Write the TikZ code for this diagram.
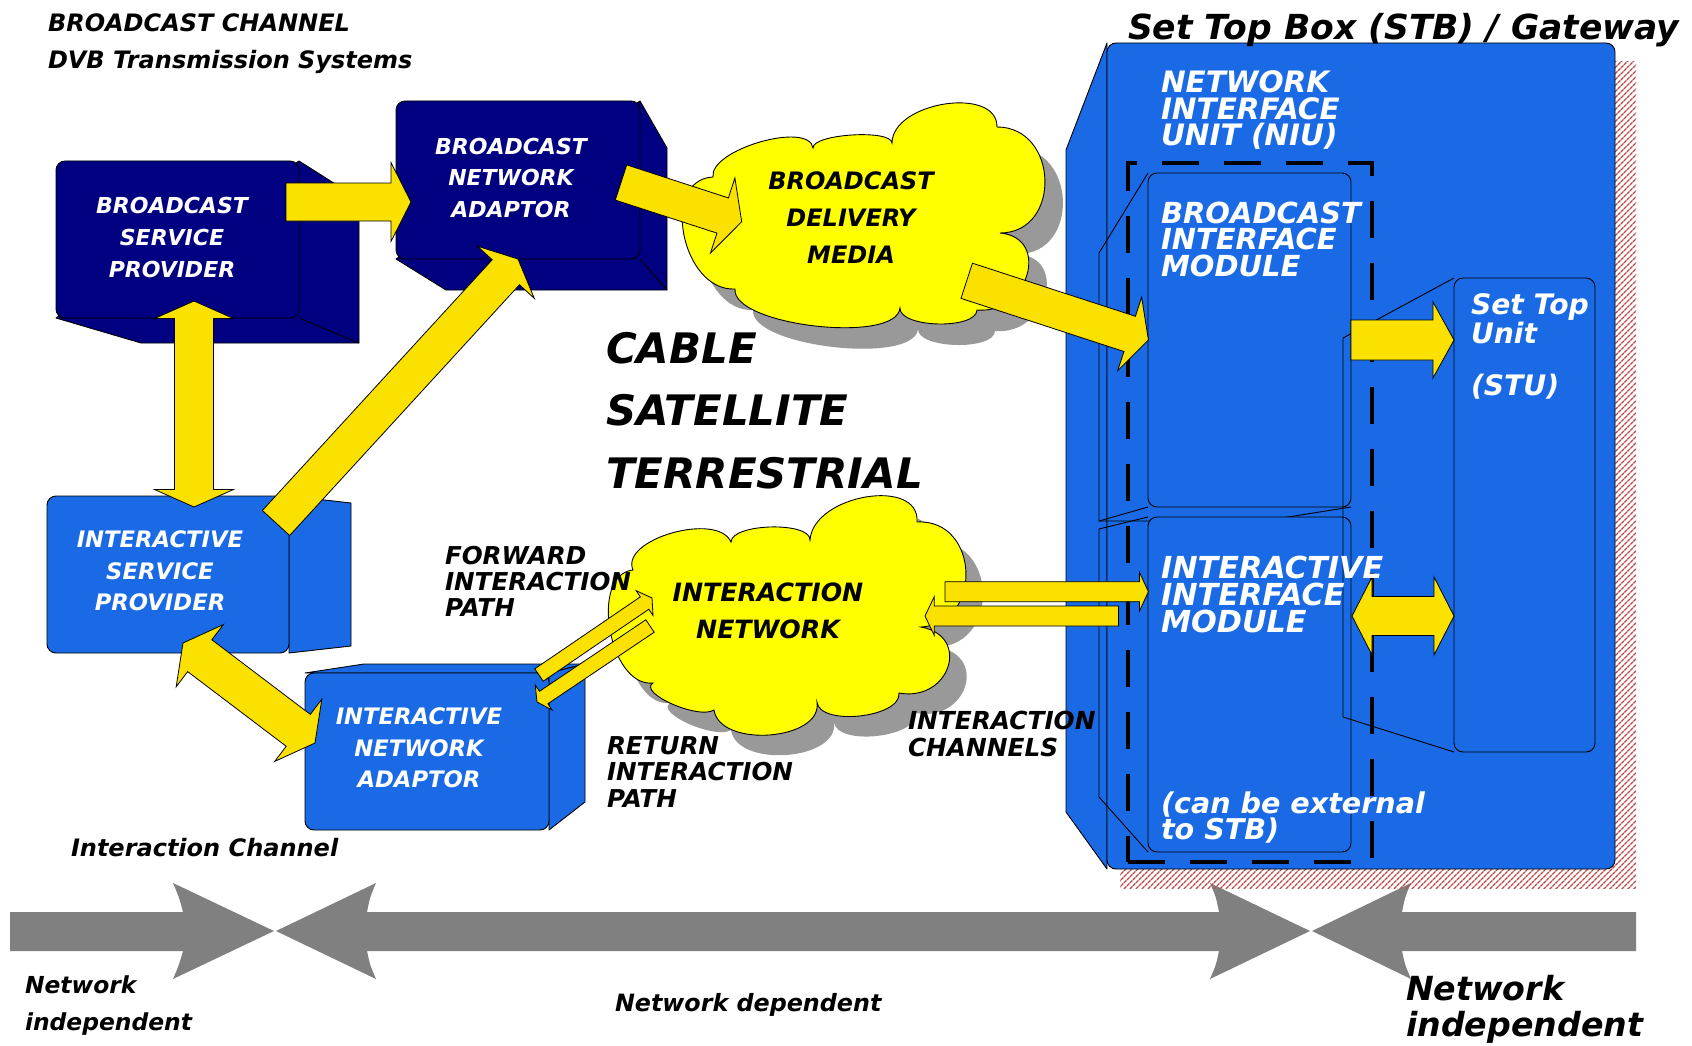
\documentclass[tikz,border=0pt]{standalone}
\usepackage{fontspec}
\setmainfont{DejaVu Sans}
\usetikzlibrary{calc,patterns.meta}

\definecolor{navy}{RGB}{0,0,128}
\definecolor{stbblue}{RGB}{26,106,230}
\definecolor{ayellow}{RGB}{250,225,0}
\definecolor{cyellow}{RGB}{255,255,0}
\definecolor{shadowgray}{RGB}{153,153,153}
\definecolor{agray}{RGB}{128,128,128}
\definecolor{hatchred}{RGB}{185,75,75}

\newcommand\fs[2]{\bfseries\itshape\fontsize{#1}{#2}\selectfont}
\newcommand\lobe[3]{.. controls ($0.3333*(#1)+1.3333*(#2)-0.6667*(#3)$) and ($0.3333*(#3)+1.3333*(#2)-0.6667*(#1)$) .. (#3)}

\newcommand\barrow[5]{%
  \coordinate (hb) at ($(#2)!#5!(#1)$);
  \filldraw[yarrow] ($(#1)!#3!90:(#2)$) -- ($(hb)!#3!-90:(#1)$) -- ($(hb)!#4!-90:(#1)$) -- (#2) -- ($(hb)!#4!90:(#1)$) -- ($(hb)!#3!90:(#1)$) -- ($(#1)!#3!-90:(#2)$) -- cycle;
}
\newcommand\dbarrow[5]{%
  \coordinate (hbA) at ($(#1)!#5!(#2)$);
  \coordinate (hbB) at ($(#2)!#5!(#1)$);
  \filldraw[yarrow] (#1) -- ($(hbA)!#4!90:(#2)$) -- ($(hbA)!#3!90:(#2)$) -- ($(hbB)!#3!-90:(#1)$) -- ($(hbB)!#4!-90:(#1)$) -- (#2) -- ($(hbB)!#4!90:(#1)$) -- ($(hbB)!#3!90:(#1)$) -- ($(hbA)!#3!-90:(#2)$) -- ($(hbA)!#4!-90:(#2)$) -- cycle;
}

\def\cloudA{(735,289) \lobe{735,289}{684,235}{713,177} \lobe{713,177}{760,142}{813,148} \lobe{813,148}{852,135}{892,143} \lobe{892,143}{945,104}{997,127} \lobe{997,127}{1045,180}{1000,233} \lobe{1000,233}{1027,275}{977,310} \lobe{977,310}{938,324}{900,308} \lobe{900,308}{815,326}{735,289} -- cycle}
\def\cloudB{(633,570) \lobe{633,570}{672,533}{731,542} \lobe{731,542}{771,527}{810,540} \lobe{810,540}{866,497}{917,522} \lobe{917,522}{966,572}{921,627} \lobe{921,627}{948,667}{899,693} \lobe{899,693}{860,716}{817,702} \lobe{817,702}{770,735}{714,710} \lobe{714,710}{672,704}{653,683} \lobe{653,683}{610,630}{633,570} -- cycle}

\tikzset{
  lbl/.style={inner sep=0pt, outer sep=0pt},
  yarrow/.style={fill=ayellow, draw=black, line width=0.8pt, line join=miter},
  navyface/.style={fill=navy, draw=black, line width=0.9pt, line join=round},
  blueface/.style={fill=stbblue, draw=black, line width=0.9pt, line join=round},
  thinline/.style={draw=black, line width=0.9pt},
  frontbox/.style={rectangle, rounded corners=9pt, draw=black, line width=0.9pt, inner sep=0pt, outer sep=0pt},
}

\begin{document}
\begin{tikzpicture}[x=1pt,y=-1pt]
\useasboundingbox (0,0) rectangle (1692,1046);
\fill[white] (0,0) rectangle (1692,1046);

% ---------- bottom grey scale arrows ----------
\fill[agray] (10,912) -- (183,912) .. controls (179,897) .. (173,883) -- (274,931) -- (173,979) .. controls (179,965) .. (183,951) -- (10,951) -- cycle;
\fill[agray] (276,931) -- (376,883) .. controls (370,897) .. (367,912) -- (1219,912) .. controls (1216,897) .. (1210,883) -- (1310,931) -- (1210,979) .. controls (1216,965) .. (1219,951) -- (367,951) .. controls (370,965) .. (376,979) -- cycle;
\fill[agray] (1312,931) -- (1411,883) .. controls (1405,897) .. (1402,912) -- (1636,912) -- (1636,951) -- (1402,951) .. controls (1405,965) .. (1411,979) -- cycle;

% ---------- Set Top Box ----------
\fill[pattern={Lines[angle=45,distance=4pt,line width=1.6pt]}, pattern color=hatchred] (1120,62) rectangle (1636,888);
\filldraw[blueface] (1107,43) -- (1066,150) -- (1066,812) -- (1107,869) -- cycle;
\node[frontbox, fill=stbblue, minimum width=508pt, minimum height=826pt] (stb) at (1361,456) {};

% modules
\draw[thinline] (1148,173) -- (1099,253) -- (1099,521) -- (1148,507);
\draw[thinline] (1099,521) -- (1263,521) -- (1351,507);
\node[frontbox, fill=stbblue, minimum width=203pt, minimum height=334pt] (bim) at (1249.5,340) {};
\draw[thinline] (1148,517) -- (1099,529) -- (1099,797) -- (1148,852);
\node[frontbox, fill=stbblue, minimum width=203pt, minimum height=335pt] (iim) at (1249.5,684.5) {};
\draw[thinline] (1454,278) -- (1343,338) -- (1343,717) -- (1454,752);
\node[frontbox, fill=stbblue, minimum width=141pt, minimum height=474pt] (stu) at (1524.5,515) {};

% NIU dashed outline
\node[rectangle, draw=black, line width=3.5pt, dash pattern=on 37pt off 25pt, minimum width=244pt, minimum height=699pt, inner sep=0pt] (niu) at (1250,512.5) {};

% ---------- left side boxes ----------
\filldraw[navyface] (299,161) -- (359,199) -- (359,343) -- (141,343) -- (56,318) -- cycle;
\draw[thinline] (299,318) -- (359,343);
\node[frontbox, fill=navy, minimum width=243pt, minimum height=157pt] (bsp) at (177.5,239.5) {};

\filldraw[navyface] (640,101) -- (667,148) -- (667,290) -- (446,290) -- (396,259) -- cycle;
\draw[thinline] (640,259) -- (667,290);
\node[frontbox, fill=navy, minimum width=244pt, minimum height=158pt] (bna) at (518,180) {};

\filldraw[blueface] (289,496) -- (351,503) -- (351,646) -- (289,653) -- cycle;
\node[frontbox, fill=stbblue, minimum width=242pt, minimum height=157pt] (isp) at (168,574.5) {};

\filldraw[blueface] (305,673) -- (364,664) -- (585,664) -- (549,673) -- cycle;
\filldraw[blueface] (549,673) -- (585,664) -- (585,802) -- (549,830) -- cycle;
\node[frontbox, fill=stbblue, minimum width=244pt, minimum height=157pt] (ina) at (427,751.5) {};

% ---------- clouds ----------
\fill[shadowgray, shift={(18,21)}] \cloudA;
\filldraw[fill=cyellow, draw=black, line width=0.9pt] \cloudA;
\fill[shadowgray, shift={(17,20)}] \cloudB;
\filldraw[fill=cyellow, draw=black, line width=0.9pt] \cloudB;

% ---------- yellow block arrows ----------
\coordinate (a1s) at (286,202);     \coordinate (a1e) at (411,202);
\coordinate (a2s) at (621,182.5);   \coordinate (a2e) at (741.7,221.7);
\coordinate (a3s) at (966.7,280.8); \coordinate (a3e) at (1148.4,340);
\coordinate (a4s) at (194,301);     \coordinate (a4e) at (194,507);
\coordinate (a5s) at (276,523);     \coordinate (a5e) at (518,259);
\coordinate (a6s) at (183,643);     \coordinate (a6e) at (315,743);
\coordinate (a7s) at (539,675);     \coordinate (a7e) at (652,598);
\coordinate (a8s) at (650,626);     \coordinate (a8e) at (537,702);
\coordinate (a9s) at (945,591.7);   \coordinate (a9e) at (1148.4,591.7);
\coordinate (a10s) at (1118.4,616); \coordinate (a10e) at (925,616);
\coordinate (a11s) at (1351,340);   \coordinate (a11e) at (1454,340);
\coordinate (a12s) at (1352,616);   \coordinate (a12e) at (1454,616);

\barrow{a1s}{a1e}{19pt}{39.5pt}{20pt}
\barrow{a2s}{a2e}{18.5pt}{39.5pt}{20pt}
\barrow{a3s}{a3e}{18.5pt}{38.6pt}{19.7pt}
\dbarrow{a4s}{a4e}{19.5pt}{39.5pt}{17.5pt}
\barrow{a5s}{a5e}{18.5pt}{38.6pt}{18pt}
\dbarrow{a6s}{a6e}{20pt}{39pt}{21pt}
\barrow{a7s}{a7e}{7.5pt}{15pt}{9pt}
\barrow{a8s}{a8e}{7.5pt}{15pt}{8pt}
\barrow{a9s}{a9e}{10pt}{19.5pt}{9pt}
\barrow{a10s}{a10e}{10pt}{19.5pt}{9.3pt}
\barrow{a11s}{a11e}{20pt}{38pt}{21pt}
\dbarrow{a12s}{a12e}{19.5pt}{39pt}{20pt}

% ---------- texts (anchor = baseline of the last line) ----------
\node[lbl, anchor=base west, align=left, font=\fs{24}{36.5}] (hdr) at (48,68.5) {BROADCAST CHANNEL\\DVB Transmission Systems};
\node[lbl, anchor=base west, font=\fs{34.5}{40}] (stbt) at (1128,39.5) {Set Top Box (STB) / Gateway};

\node[lbl, anchor=base, align=center, text=white, font=\fs{22}{32}] (bspt) at (172,277) {BROADCAST\\SERVICE\\PROVIDER};
\node[lbl, anchor=base, align=center, text=white, font=\fs{22}{31.5}] (bnat) at (511,217) {BROADCAST\\NETWORK\\ADAPTOR};
\node[lbl, anchor=base, align=center, text=white, font=\fs{22.7}{31.5}] (ispt) at (160,610.5) {INTERACTIVE\\SERVICE\\PROVIDER};
\node[lbl, anchor=base, align=center, text=white, font=\fs{22.7}{31.5}] (inat) at (419,787.5) {INTERACTIVE\\NETWORK\\ADAPTOR};

\node[lbl, anchor=base, align=center, font=\fs{24}{36.8}] (bdm) at (851,263) {BROADCAST\\DELIVERY\\MEDIA};
\node[lbl, anchor=base, align=center, font=\fs{25.2}{37}] (inet) at (768,638.5) {INTERACTION\\NETWORK};

\node[lbl, anchor=base west, align=left, font=\fs{42}{62.5}] (media) at (606,488) {CABLE\\SATELLITE\\TERRESTRIAL};
\node[lbl, anchor=base west, align=left, font=\fs{24.6}{26}] (fwd) at (445,616) {FORWARD\\INTERACTION\\PATH};
\node[lbl, anchor=base west, align=left, font=\fs{24.6}{26.5}] (ret) at (607,807) {RETURN\\INTERACTION\\PATH};
\node[lbl, anchor=base west, align=left, font=\fs{24.8}{27}] (ich) at (908,756.5) {INTERACTION\\CHANNELS};

\node[lbl, anchor=base west, align=left, text=white, font=\fs{29.5}{26.5}] (niut) at (1161,146) {NETWORK\\INTERFACE\\UNIT (NIU)};
\node[lbl, anchor=base west, align=left, text=white, font=\fs{29}{26.5}] (bimt) at (1161,276) {BROADCAST\\INTERFACE\\MODULE};
\node[lbl, anchor=base west, align=left, text=white, font=\fs{28.2}{26}] (stut) at (1471,395) {Set Top\\Unit\\[26pt](STU)};
\node[lbl, anchor=base west, align=left, text=white, font=\fs{30.3}{27}] (iimt) at (1161,632) {INTERACTIVE\\INTERFACE\\MODULE};
\node[lbl, anchor=base west, align=left, text=white, font=\fs{28.6}{26.5}] (ext) at (1161,839.5) {(can be external\\to STB)};

\node[lbl, anchor=base west, font=\fs{24}{28}] (icht) at (71,856) {Interaction Channel};
\node[lbl, anchor=base west, align=left, font=\fs{23.4}{37}] (nil) at (25,1030) {Network\\independent};
\node[lbl, anchor=base west, font=\fs{23.8}{28}] (nd) at (615,1011) {Network dependent};
\node[lbl, anchor=base west, align=left, font=\fs{33.2}{36}] (nir) at (1406,1036) {Network\\independent};
\end{tikzpicture}
\end{document}
